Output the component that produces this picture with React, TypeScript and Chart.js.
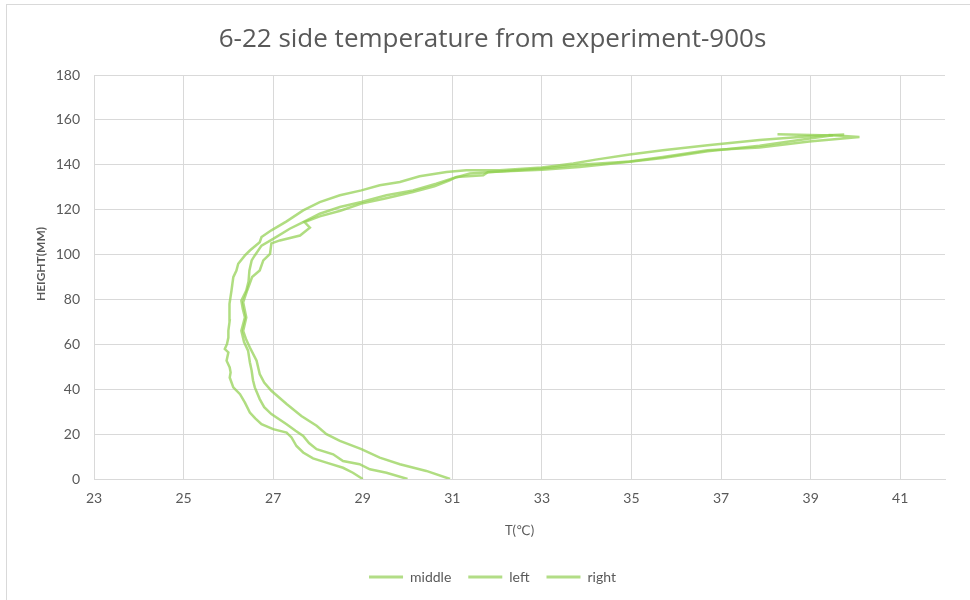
import React, { useEffect, useRef } from "react";
import { Chart, registerables } from "chart.js";

Chart.register(...registerables);

const chartTitle = "6-22 side temperature from experiment-900s";
const xTitle = "T(℃)";
const yTitle = "HEIGHT(MM)";
const seriesNames = ["middle", "left", "right"];
const xTicks = [23, 25, 27, 29, 31, 33, 35, 37, 39, 41];
const yTicks = [0, 20, 40, 60, 80, 100, 120, 140, 160, 180];

// [temperature (°C), height (mm)]
const middle: [number, number][] = [
  [29.0, 0], [28.78, 2.8], [28.56, 5], [28.19, 7.3], [27.89, 9.2], [27.67, 11.8],
  [27.52, 14.7], [27.41, 18.5], [27.3, 20.7], [27.0, 22.2], [26.74, 24.4], [26.6, 27],
  [26.48, 29.6], [26.37, 34], [26.26, 37.8], [26.11, 40.8], [26.03, 45.2], [26.05, 47.5],
  [26.03, 49.7], [25.96, 52.7], [26.0, 56.4], [25.92, 57.9], [25.97, 60.2], [26.0, 63],
  [26.0, 66.1], [26.03, 70.6], [26.02, 74], [26.03, 78], [26.07, 84], [26.09, 87],
  [26.11, 89.9], [26.18, 92.9], [26.22, 95.9], [26.37, 99.6], [26.48, 101.8], [26.7, 105.5],
  [26.74, 107.8], [26.96, 110.8], [27.3, 114.8], [27.67, 119.7], [28.04, 123.4], [28.49, 126.4],
  [28.97, 128.6], [29.38, 130.9], [29.83, 132.3], [30.27, 134.9], [30.87, 136.8], [31.31, 137.6],
  [32.06, 137.6], [33.0, 138.8], [33.7, 140.6], [34.2, 142.3], [34.96, 144.6], [35.7, 146.5],
  [36.7, 148.7], [37.86, 151.0], [38.97, 152.7], [39.75, 153.5],
];

const left: [number, number][] = [
  [30.0, 0], [29.53, 2.8], [29.16, 4.3], [28.93, 6.6], [28.56, 8], [28.34, 11],
  [27.97, 13.3], [27.8, 16], [27.67, 19.2], [27.5, 21.5], [27.3, 24.4], [26.96, 28.9],
  [26.8, 32], [26.7, 35.6], [26.59, 40.8], [26.55, 44], [26.52, 48.2], [26.48, 52],
  [26.44, 57.2], [26.35, 61], [26.29, 66], [26.37, 72], [26.32, 76], [26.29, 79.5],
  [26.4, 84], [26.45, 88], [26.47, 92.9], [26.52, 97.4], [26.59, 99.6], [26.74, 104],
  [27.0, 107], [27.37, 111.5], [27.67, 114.5], [28.04, 118.2], [28.49, 121.2], [28.97, 123.4],
  [29.53, 126.4], [30.12, 128.6], [30.64, 131.6], [31.0, 133.9], [31.39, 136.1], [31.9, 136.8],
  [33.0, 138.3], [33.84, 140.0], [34.96, 141.5], [35.7, 143.5], [36.7, 146.5], [37.86, 147.7],
  [38.97, 150.4], [40.09, 152.4], [39.4, 153.3],
];

const right: [number, number][] = [
  [30.95, 0], [30.42, 3.6], [29.83, 6.6], [29.38, 9.5], [28.97, 13.3], [28.49, 17],
  [28.19, 20], [27.97, 23.7], [27.63, 28.1], [27.3, 33.4], [26.96, 39.3], [26.8, 43],
  [26.7, 46.8], [26.63, 52.7], [26.48, 58.6], [26.4, 62], [26.33, 66], [26.4, 72],
  [26.33, 78.7], [26.42, 84], [26.53, 90], [26.7, 92.9], [26.78, 97.4], [26.93, 100.3],
  [26.96, 105], [27.15, 106.3], [27.6, 108.5], [27.82, 112], [27.7, 114.5], [28.04, 117],
  [28.5, 119.5], [28.97, 122.7], [29.5, 125], [30.12, 127.9], [30.6, 130.4], [30.94, 133.1],
  [31.09, 134.6], [31.69, 135.3], [31.8, 136.8], [33.0, 137.8], [33.84, 139.0], [34.96, 141.3],
  [35.7, 143.0], [36.7, 146.0], [37.86, 148.5], [38.9, 151.5], [39.5, 153.1], [38.26, 153.6],
];

const seriesData = [middle, left, right];

const LINE = "rgba(146, 208, 80, 0.72)";
const LEGEND_LINE = "#b2dd86";
const TEXT = "#595959";
const GRID = "#d9d9d9";
const FONT = "Lato, 'Open Sans', 'DejaVu Sans', sans-serif";
const TITLE_FONT = "'Open Sans', Lato, sans-serif";

const yTitlePlugin = {
  id: "yTitlePlugin",
  afterDraw(chart: any) {
    const { ctx, chartArea } = chart;
    ctx.save();
    ctx.translate(41, (chartArea.top + chartArea.bottom) / 2 - 13);
    ctx.rotate(-Math.PI / 2);
    ctx.fillStyle = TEXT;
    ctx.font = `bold 12px ${FONT}`;
    ctx.textAlign = "center";
    ctx.textBaseline = "middle";
    ctx.fillText(yTitle, 0, 0);
    ctx.restore();
  },
};

export default function App() {
  const ref = useRef<HTMLCanvasElement>(null);

  useEffect(() => {
    const canvas = ref.current;
    if (!canvas) return;
    const chart = new Chart(canvas, {
      type: "scatter",
      data: {
        datasets: seriesData.map((s, i) => ({
          label: seriesNames[i],
          data: s.map(([x, y]) => ({ x, y })),
          showLine: true,
          borderColor: LINE,
          backgroundColor: LINE,
          borderWidth: 2.5,
          pointRadius: 0,
          pointHoverRadius: 0,
          tension: 0,
        })),
      },
      options: {
        responsive: false,
        animation: false,
        devicePixelRatio: 1,
        layout: { padding: { left: 0, right: 0, top: 0, bottom: 6 } },
        plugins: {
          title: {
            display: true,
            text: chartTitle,
            color: TEXT,
            font: { family: TITLE_FONT, size: 26, weight: "normal" },
            padding: { top: 24.4, bottom: 19.4 },
          },
          legend: {
            position: "bottom",
            labels: {
              boxWidth: 34,
              boxHeight: 3,
              padding: 17,
              color: TEXT,
              font: { family: FONT, size: 14 },
              generateLabels: (c: any) =>
                c.data.datasets.map((d: any, i: number) => ({
                  text: d.label,
                  fillStyle: LEGEND_LINE,
                  strokeStyle: LEGEND_LINE,
                  lineWidth: 0,
                  hidden: false,
                  datasetIndex: i,
                  fontColor: TEXT,
                })),
            },
          },
          tooltip: { enabled: false },
        },
        scales: {
          x: {
            type: "linear",
            min: 23,
            max: 42,
            afterBuildTicks: (s: any) => {
              s.ticks = xTicks.map((v) => ({ value: v }));
            },
            afterFit: (s: any) => {
              s.height = 74;
            },
            grid: { color: GRID, drawTicks: false },
            border: { color: GRID },
            ticks: {
              color: TEXT,
              font: { family: FONT, size: 14 },
              padding: 11,
              autoSkip: false,
              maxRotation: 0,
            },
            title: {
              display: true,
              text: xTitle,
              color: TEXT,
              font: { family: FONT, size: 13 },
              padding: { top: 0, bottom: 14 },
            },
          },
          y: {
            type: "linear",
            min: 0,
            max: 180,
            afterBuildTicks: (s: any) => {
              s.ticks = yTicks.map((v) => ({ value: v }));
            },
            afterFit: (s: any) => {
              s.width = 94;
            },
            grid: { color: GRID, drawTicks: false },
            border: { color: GRID },
            ticks: {
              color: TEXT,
              font: { family: FONT, size: 14 },
              padding: 14,
            },
          },
          y2: {
            type: "linear",
            position: "right",
            display: true,
            grid: { display: false },
            border: { display: false },
            ticks: { display: false },
            afterFit: (s: any) => {
              s.width = 40;
            },
          },
        },
      },
      plugins: [yTitlePlugin],
    } as any);
    return () => chart.destroy();
  }, []);

  return (
    <div
      style={{
        position: "absolute",
        left: 0,
        top: 0,
        width: 970,
        height: 600,
        overflow: "hidden",
        background: "#ffffff",
      }}
    >
      <div
        style={{
          position: "absolute",
          left: 6,
          top: 4,
          width: 1100,
          height: 1000,
          border: "1px solid #d9d9d9",
        }}
      />
      <canvas
        ref={ref}
        width={985}
        height={600}
        style={{ position: "absolute", left: 0, top: 0, width: 985, height: 600 }}
      />
    </div>
  );
}
